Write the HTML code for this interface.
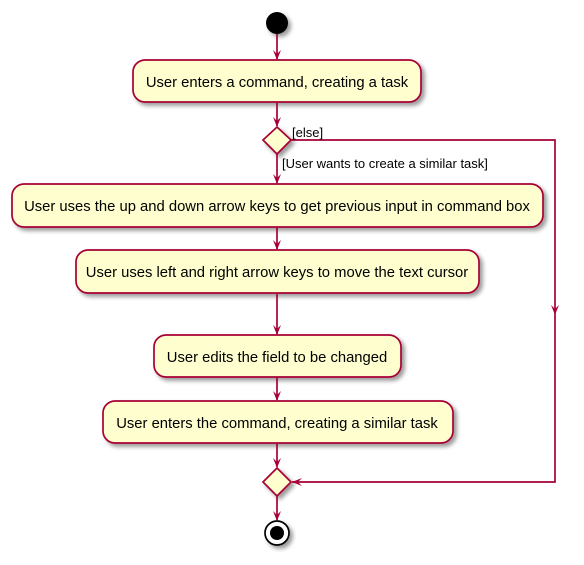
<!DOCTYPE html>
<html><head><style>body{margin:0;background:#fff}svg{display:block}</style></head>
<body>
<svg width="584" height="565" xmlns="http://www.w3.org/2000/svg" font-family="Liberation Sans, Arial, sans-serif">
<defs>
<filter id="sh" x="-10%" y="-10%" width="130%" height="140%"><feGaussianBlur in="SourceAlpha" stdDeviation="2"/><feOffset dx="3" dy="3"/><feComponentTransfer><feFuncA type="linear" slope="0.4"/></feComponentTransfer><feMerge><feMergeNode/><feMergeNode in="SourceGraphic"/></feMerge></filter>
</defs>
<g fill="#FEFECE" stroke="#A80036" stroke-width="1.7" filter="url(#sh)">
<circle cx="277" cy="23" r="11" fill="#000" stroke="none"/>
<rect x="133" y="60" width="288" height="42" rx="12"/>
<polygon points="277,127 291,140 277,154 263,140"/>
<rect x="12" y="184" width="531" height="43" rx="12"/>
<rect x="76" y="250" width="403" height="43" rx="12"/>
<rect x="154" y="335" width="247" height="42" rx="12"/>
<rect x="103" y="401" width="350" height="42" rx="12"/>
<polygon points="277,468 291,482 277,496 263,482"/>
<circle cx="277" cy="533" r="12" fill="#fff" stroke="#000"/>
</g>
<circle cx="277" cy="533" r="7" fill="#000"/>
<g stroke="#A80036" stroke-width="1.7" fill="none">
<line x1="277" y1="34" x2="277" y2="59"/>
<line x1="277" y1="102" x2="277" y2="126"/>
<line x1="277" y1="154" x2="277" y2="183"/>
<line x1="277" y1="227" x2="277" y2="249"/>
<line x1="277" y1="293" x2="277" y2="334"/>
<line x1="277" y1="377" x2="277" y2="400"/>
<line x1="277" y1="443" x2="277" y2="467"/>
<line x1="277" y1="496" x2="277" y2="520"/>
<polyline points="291,140 555,140 555,482 292,482"/>
</g>
<g fill="#A80036">
<polygon points="273,50 277,60 281,50 277,54"/>
<polygon points="273,117 277,127 281,117 277,121"/>
<polygon points="273,174 277,184 281,174 277,178"/>
<polygon points="273,240 277,250 281,240 277,244"/>
<polygon points="273,325 277,335 281,325 277,329"/>
<polygon points="273,391 277,401 281,391 277,395"/>
<polygon points="273,458 277,468 281,458 277,462"/>
<polygon points="273,511 277,521 281,511 277,515"/>
<polygon points="551,305 555,315 559,305 555,309"/>
<polygon points="302,478 292,482 302,486 298,482"/>
</g>
<g font-size="14.8" fill="#000" text-anchor="middle">
<text x="277" y="87">User enters a command, creating a task</text>
<text x="277" y="211">User uses the up and down arrow keys to get previous input in command box</text>
<text x="277" y="277">User uses left and right arrow keys to move the text cursor</text>
<text x="277" y="362">User edits the field to be changed</text>
<text x="277" y="428">User enters the command, creating a similar task</text>
</g>
<g font-size="13" fill="#000">
<text x="292" y="137">[else]</text>
<text x="282" y="168">[User wants to create a similar task]</text>
</g>
</svg>
</body></html>
